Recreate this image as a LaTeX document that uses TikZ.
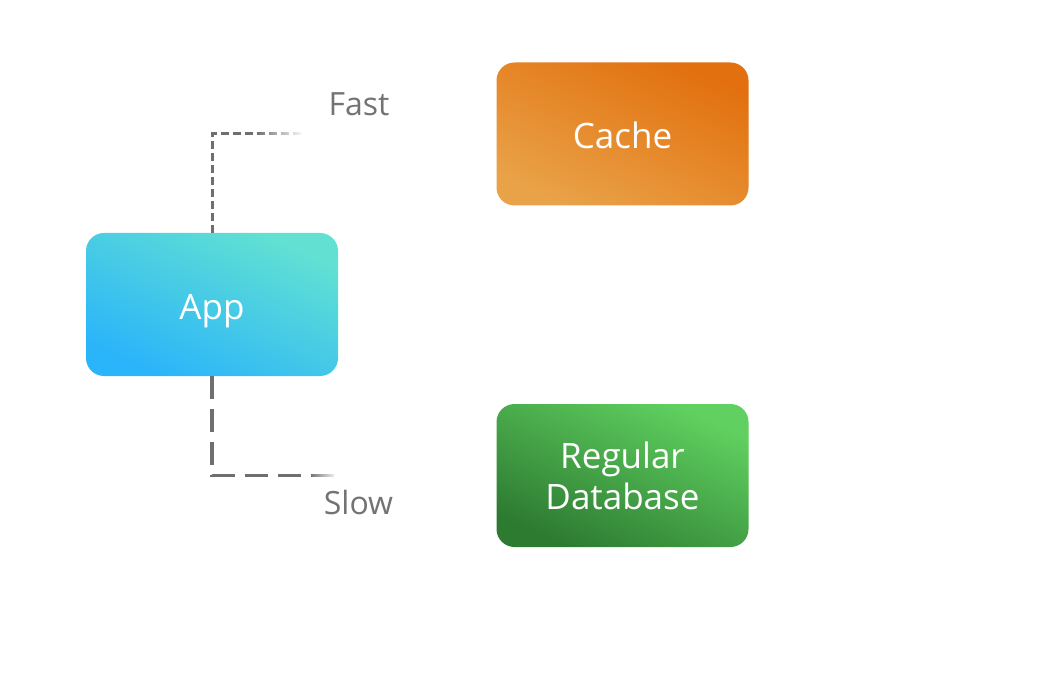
\documentclass[tikz,border=0pt]{standalone}
\usepackage{fontspec}
\setmainfont{Open Sans}
\usetikzlibrary{fadings}
\definecolor{appTR}{HTML}{62E1D2}
\definecolor{appBL}{HTML}{2AB4FA}
\definecolor{cacheTR}{HTML}{E2700E}
\definecolor{cacheBL}{HTML}{E9A248}
\definecolor{dbTR}{HTML}{60D160}
\definecolor{dbBL}{HTML}{2D7A31}
\definecolor{linegray}{HTML}{6F6F6F}
\definecolor{labelgray}{HTML}{737373}
\tikzset{
 box/.style={rounded corners=9pt,minimum width=126pt,minimum height=71.5pt,inner sep=0pt,
   text=white,align=center,font=\fontsize{17.5}{20}\selectfont,
   text height=15pt,text depth=0pt,shading angle=-25},
 fastline/.style={draw=linegray,line width=1.5pt,dash pattern=on 4pt off 2pt},
 slowline/.style={draw=linegray,line width=1.6pt,dash pattern=on 11.5pt off 5pt},
 speed/.style={text=labelgray,anchor=base,font=\fontsize{16}{19}\selectfont}
}
\begin{document}
\begin{tikzpicture}[x=.5pt,y=-.5pt]
 \fill[white] (0,0) rectangle (1052,683);
 \useasboundingbox (0,0) rectangle (1052,683);
 \node[box,top color=appTR,bottom color=appBL,shading angle=-25] (app) at (212,304.5) {App};
 \node[box,top color=cacheTR,bottom color=cacheBL,shading angle=-25] (cache) at (622.5,134) {Cache};
 \node[box,top color=dbTR,bottom color=dbBL,shading angle=-25,text height=33.5pt,
   font=\fontsize{17.5}{20.2}\selectfont] (db) at (622.5,475.5) {Regular\\Database};
 \coordinate (fastmid) at (257,134);
 \coordinate (fastend) at (303,134);
 \coordinate (slowmid) at (311,475.5);
 \coordinate (slowend) at (336,475.5);
 \draw[fastline] (app.north) |- (fastmid);
 \draw[fastline,path fading=east] (fastmid) -- (fastend) +(0,6) +(0,-6);
 \draw[slowline] (app.south) |- (slowmid);
 \draw[slowline,path fading=east] (slowmid) -- (slowend) +(0,6) +(0,-6);
 \node[speed] (fast) at (359,116) {Fast};
 \node[speed] (slow) at (358.5,514) {Slow};
\end{tikzpicture}
\end{document}
